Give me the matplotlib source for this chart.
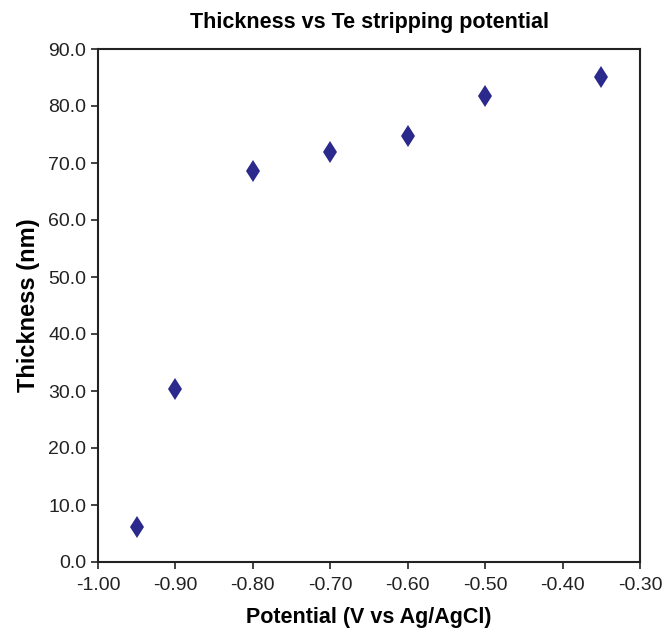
import matplotlib
matplotlib.use("Agg")
import matplotlib.pyplot as plt

#####################
### Data
#####################
potential = [-0.95, -0.90, -0.80, -0.70, -0.60, -0.50, -0.35]
thickness = [6.1, 30.4, 68.6, 71.9, 74.8, 81.8, 85.1]
xticks = [-1.00, -0.90, -0.80, -0.70, -0.60, -0.50, -0.40, -0.30]
yticks = [0, 10, 20, 30, 40, 50, 60, 70, 80, 90]

plt.rcParams["font.family"] = ["Liberation Sans", "DejaVu Sans"]

fig = plt.figure(figsize=(6.64, 6.31), dpi=100)
ax = fig.add_axes([98/664, 1-562/631, (640-98)/664, (562-49)/631])

ax.plot(potential, thickness, linestyle="none", marker="d", markersize=11.5,
        color="#2b2a8c", markeredgewidth=0)

ax.set_xlim(-1.0, -0.3)
ax.set_ylim(0, 90)
ax.set_xticks(xticks)
ax.set_xticklabels(["%.2f" % v for v in xticks])
ax.set_yticks(yticks)
ax.set_yticklabels(["%.1f" % v for v in yticks])
ax.tick_params(direction="out", length=5, width=1.2, labelsize=14, colors="#222222")
ax.tick_params(axis="x", pad=6)
for s in ax.spines.values():
    s.set_linewidth(1.5)
    s.set_color("#222222")

ax.set_title("Thickness vs Te stripping potential", fontsize=15.5, fontweight="bold", pad=15)
ax.set_xlabel("Potential (V vs Ag/AgCl)", fontsize=15.5, fontweight="bold", labelpad=9)
ax.set_ylabel("Thickness (nm)", fontsize=17, fontweight="bold", labelpad=6)

fig.savefig("out.png", dpi=100)
